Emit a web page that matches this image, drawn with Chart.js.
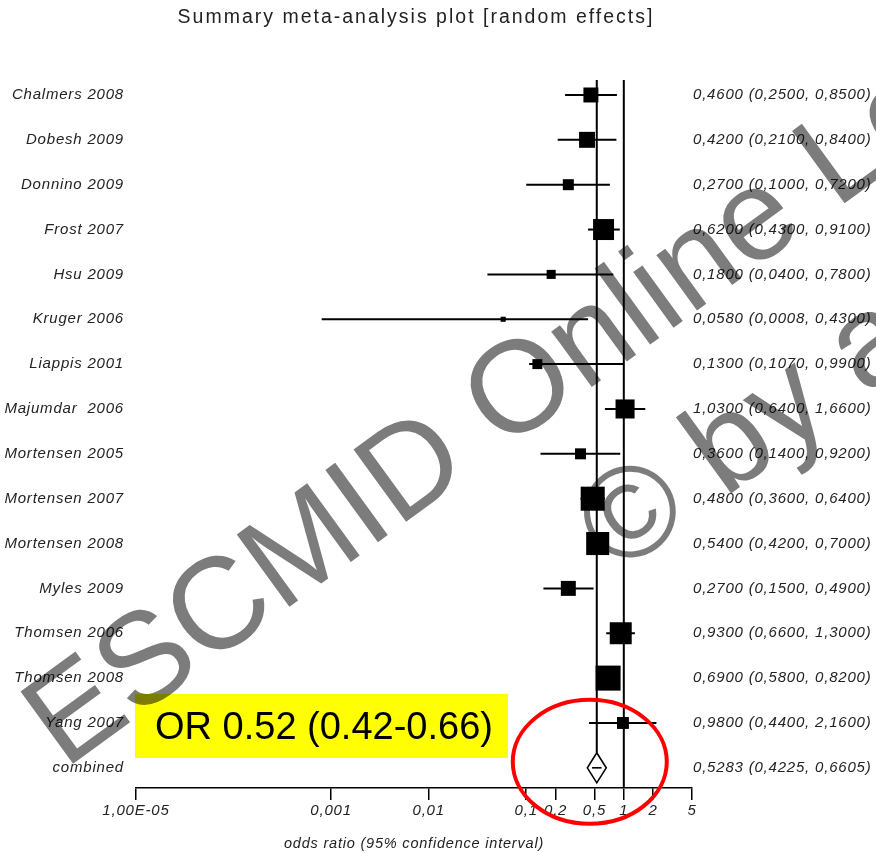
<!DOCTYPE html>
<html>
<head>
<meta charset="utf-8">
<script src="https://cdn.jsdelivr.net/npm/chart.js@4.4.1/dist/chart.umd.min.js"></script>
<style>
  html, body { margin: 0; padding: 0; background: #fff; }
  #wrap { position: relative; width: 876px; height: 853px; }
</style>
</head>
<body>
<div id="wrap"><canvas id="forest" width="876" height="853"></canvas></div>
<script>
// studies, one row each, top to bottom
const studies = [
  "Chalmers 2008", "Dobesh 2009", "Donnino 2009", "Frost 2007", "Hsu 2009",
  "Kruger 2006", "Liappis 2001", "Majumdar  2006", "Mortensen 2005",
  "Mortensen 2007", "Mortensen 2008", "Myles 2009", "Thomsen 2006",
  "Thomsen 2008", "Yang 2007"
];
const oddsRatios = [0.46, 0.42, 0.27, 0.62, 0.18, 0.058, 0.13, 1.03, 0.36, 0.48, 0.54, 0.27, 0.93, 0.69, 0.98];
const ciLower = [0.25, 0.21, 0.10, 0.43, 0.04, 0.0008, 0.107, 0.64, 0.14, 0.36, 0.42, 0.15, 0.66, 0.58, 0.44];
const ciUpper = [0.85, 0.84, 0.72, 0.91, 0.78, 0.43, 0.99, 1.66, 0.92, 0.64, 0.70, 0.49, 1.30, 0.82, 2.16];
// relative weight (%) -> box area
const weights = [5.2, 5.9, 2.8, 10.2, 1.9, 0.6, 2.3, 8.4, 2.8, 13.4, 12.3, 5.2, 11.2, 14.5, 3.3];

// pooled estimate
const combinedLabel = "combined";
const combinedOR = 0.5283;
const combinedLower = 0.4225;
const combinedUpper = 0.6605;

// x axis
const tickValues = [1e-5, 0.001, 0.01, 0.1, 0.2, 0.5, 1, 2, 5];
const tickLabels = ["1,00E-05", "0,001", "0,01", "0,1", "0,2", "0,5", "1", "2", "5"];

const summaryNote = "OR 0.52 (0.42-0.66)";

const FONT = "'Liberation Sans', Arial, Helvetica, sans-serif";

// "0,4600 (0,2500, 0,8500)"
const fmt = (v) => v.toFixed(4).replace(".", ",");
const rowLabels = [...studies, combinedLabel];
const valueLabels = studies.map((s, i) => `${fmt(oddsRatios[i])} (${fmt(ciLower[i])}, ${fmt(ciUpper[i])})`);
valueLabels.push(`${fmt(combinedOR)} (${fmt(combinedLower)}, ${fmt(combinedUpper)})`);
const rowIndex = rowLabels.map((_, i) => i);
const combinedRow = studies.length;

const boxRadius = (w) => (6.57 * Math.sqrt(w)) / (2 * Math.SQRT1_2);

const rowAxis = (position, labels, padding) => ({
  type: "linear",
  position: position,
  reverse: true,
  min: -0.334,
  max: 15.45,
  afterBuildTicks: (scale) => {
    scale.ticks = rowIndex.map((v) => ({ value: v }));
  },
  afterFit: (scale) => {
    scale.width = position === "left" ? 136 : 184;
  },
  grid: { display: false, drawTicks: false },
  border: { display: false },
  ticks: {
    padding: padding,
    color: "#222",
    font: { family: FONT, size: 15, style: "italic" },
    callback: (v) => labels[v] ?? "",
  },
});

// error bars + reference lines, under the boxes
const forestLines = {
  id: "forestLines",
  beforeDraw(chart) {
    chart.ctx.letterSpacing = "0.8px";
  },
  beforeDatasetsDraw(chart) {
    const { ctx, chartArea, scales } = chart;
    const x = scales.x;
    const y = scales.y;
    ctx.save();
    ctx.strokeStyle = "#000";
    ctx.lineWidth = 2;

    // line of no effect
    ctx.beginPath();
    ctx.moveTo(x.getPixelForValue(1), chartArea.top);
    ctx.lineTo(x.getPixelForValue(1), chartArea.bottom);
    ctx.stroke();

    // pooled estimate line, down to the diamond
    const yc = y.getPixelForValue(combinedRow);
    ctx.beginPath();
    ctx.moveTo(x.getPixelForValue(combinedOR), chartArea.top);
    ctx.lineTo(x.getPixelForValue(combinedOR), yc - 15);
    ctx.stroke();

    studies.forEach((s, i) => {
      const yy = y.getPixelForValue(i);
      ctx.beginPath();
      ctx.moveTo(x.getPixelForValue(ciLower[i]), yy);
      ctx.lineTo(x.getPixelForValue(ciUpper[i]), yy);
      ctx.stroke();
    });

    // diamond
    const xl = x.getPixelForValue(combinedLower);
    const xm = x.getPixelForValue(combinedOR);
    const xu = x.getPixelForValue(combinedUpper);
    ctx.lineWidth = 1.6;
    ctx.fillStyle = "#fff";
    ctx.beginPath();
    ctx.moveTo(xl, yc);
    ctx.lineTo(xm, yc - 15);
    ctx.lineTo(xu, yc);
    ctx.lineTo(xm, yc + 15);
    ctx.closePath();
    ctx.fill();
    ctx.stroke();
    ctx.beginPath();
    ctx.moveTo(xm - (xm - xl) / 2, yc);
    ctx.lineTo(xm + (xu - xm) / 2, yc);
    ctx.stroke();
    ctx.restore();
  },
  afterDraw(chart) {
    const { ctx, chartArea, scales } = chart;
    const x = scales.x;
    const y = scales.y;
    ctx.save();

    // title
    ctx.letterSpacing = "2px";
    ctx.fillStyle = "#222";
    ctx.font = `19.5px ${FONT}`;
    ctx.textAlign = "center";
    ctx.textBaseline = "middle";
    ctx.fillText("Summary meta-analysis plot [random effects]", (chartArea.left + chartArea.right) / 2 + 2, 18);

    // yellow note box
    const yy = y.getPixelForValue(combinedRow - 1);
    ctx.fillStyle = "#ffff00";
    ctx.fillRect(chartArea.left - 1, yy - 29, 373, 64);
    ctx.letterSpacing = "0px";
    ctx.fillStyle = "#000";
    ctx.font = `38px ${FONT}`;
    ctx.textAlign = "left";
    ctx.textBaseline = "alphabetic";
    ctx.fillText(summaryNote, chartArea.left + 19, yy + 16);

    // red ring round the pooled estimate
    ctx.strokeStyle = "#ff0000";
    ctx.lineWidth = 4;
    ctx.beginPath();
    ctx.ellipse(x.getPixelForValue(combinedOR) - 7, y.getPixelForValue(combinedRow) - 6, 77, 62, 0, 0, Math.PI * 2);
    ctx.stroke();

    // watermark
    ctx.globalCompositeOperation = "multiply";
    ctx.fillStyle = "#7c7c7c";
    ctx.font = `130px ${FONT}`;
    ctx.textAlign = "center";
    ctx.translate(801, 235);
    ctx.rotate((-36 * Math.PI) / 180);
    ctx.fillText("ESCMID Online Lecture Library", 0, 0);
    ctx.fillText("\u00A9 by author", -12, 168);
    ctx.restore();
  },
};

new Chart(document.getElementById("forest"), {
  type: "scatter",
  data: {
    datasets: [
      {
        data: studies.map((s, i) => ({ x: oddsRatios[i], y: i })),
        pointStyle: "rect",
        pointRadius: weights.map(boxRadius),
        backgroundColor: "#000",
        borderWidth: 0,
        yAxisID: "y",
      },
    ],
  },
  options: {
    responsive: false,
    animation: false,
    devicePixelRatio: 1,
    layout: { padding: { top: 80, left: 0, right: 0, bottom: 0 } },
    plugins: { legend: { display: false }, tooltip: { enabled: false }, title: { display: false } },
    scales: {
      x: {
        type: "logarithmic",
        min: 1e-5,
        max: 5,
        afterBuildTicks: (scale) => {
          scale.ticks = tickValues.map((v) => ({ value: v }));
        },
        afterFit: (scale) => {
          scale.height = 65;
        },
        grid: { drawOnChartArea: false, drawTicks: true, tickLength: 12, color: "#000", lineWidth: 1.5 },
        border: { display: true, color: "#000", width: 1.5 },
        ticks: {
          autoSkip: false,
          maxRotation: 0,
          minRotation: 0,
          padding: 2,
          color: "#222",
          font: { family: FONT, size: 15, style: "italic" },
          callback: (v, i) => tickLabels[i],
        },
        title: {
          display: true,
          text: "odds ratio (95% confidence interval)",
          color: "#222",
          padding: { top: 0, bottom: 0 },
          font: { family: FONT, size: 14.5, style: "italic" },
        },
      },
      y: rowAxis("left", rowLabels, 12),
      y2: rowAxis("right", valueLabels, 1),
    },
  },
  plugins: [forestLines],
});
</script>
</body>
</html>
